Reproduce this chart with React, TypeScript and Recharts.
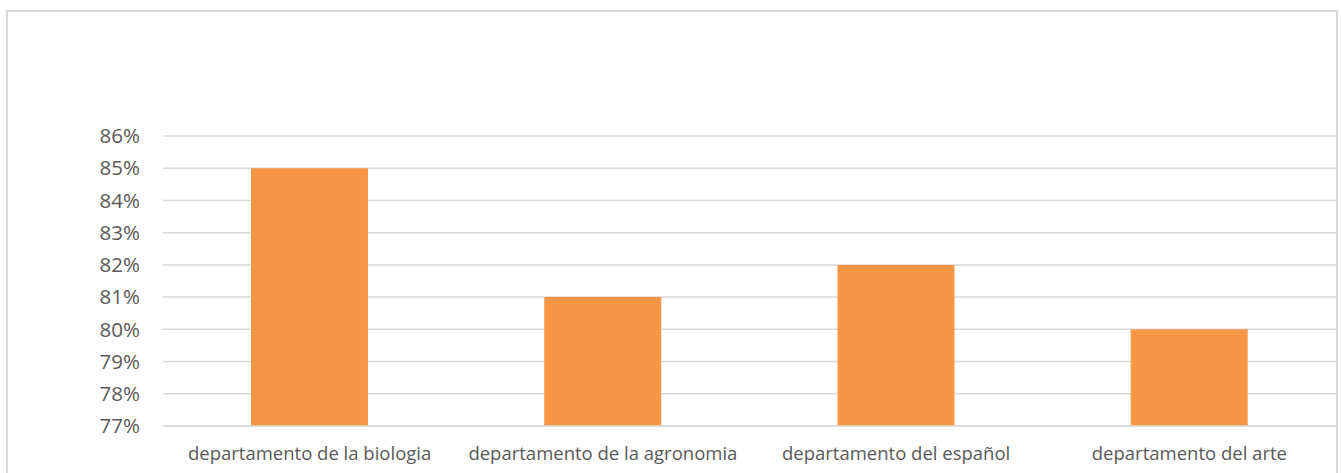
import { BarChart, Bar, XAxis, YAxis, CartesianGrid } from 'recharts';

const categories = [
  'departamento de la biologia',
  'departamento de la agronomia',
  'departamento del español',
  'departamento del arte',
];
const values = [0.85, 0.81, 0.82, 0.8];
const yTicks = [0.77, 0.78, 0.79, 0.8, 0.81, 0.82, 0.83, 0.84, 0.85, 0.86];

const data = categories.map((name, i) => ({ name, v: values[i] }));

const font = '"Open Sans", sans-serif';
const textColor = '#595959';
const gridColor = '#D9D9D9';

export default function App() {
  return (
    <div
      style={{
        position: 'absolute',
        left: 0,
        top: 0,
        width: 1341,
        height: 473,
        overflow: 'hidden',
        background: '#fff',
        fontFamily: font,
      }}
    >
      <div
        style={{
          position: 'absolute',
          left: 6,
          top: 10,
          width: 1328,
          height: 500,
          border: `2px solid ${gridColor}`,
        }}
      />
      <div style={{ position: 'absolute', left: 0, top: 0 }}>
        <BarChart
          width={1341}
          height={473}
          data={data}
          margin={{ top: 136, right: 5, bottom: 17, left: 0 }}
          barCategoryGap="30%"
        >
          <CartesianGrid vertical={false} stroke={gridColor} strokeWidth={1.5} />
          <XAxis
            dataKey="name"
            height={30}
            axisLine={{ stroke: gridColor, strokeWidth: 1.5 }}
            tickLine={false}
            tickMargin={15}
            tick={{ fill: textColor, fontSize: 18.5, fontFamily: font }}
            interval={0}
          />
          <YAxis
            width={163}
            domain={[0.77, 0.86]}
            ticks={yTicks}
            allowDataOverflow
            axisLine={false}
            tickLine={false}
            tickMargin={17}
            tickFormatter={(v: number) => `${Math.round(v * 100)}%`}
            tick={{ fill: textColor, fontSize: 20.5, fontFamily: font }}
          />
          <Bar dataKey="v" fill="#F79646" isAnimationActive={false} />
        </BarChart>
      </div>
    </div>
  );
}
